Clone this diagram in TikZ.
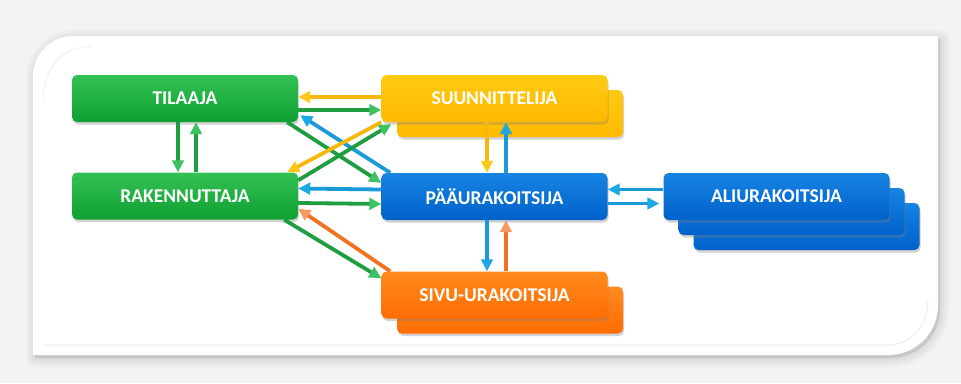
\documentclass[tikz,border=0pt]{standalone}
\usepackage{fontspec}
\setmainfont{Carlito}
\usetikzlibrary{arrows.meta,shadows,calc}
\definecolor{bgc}{HTML}{F3F3F3}
\definecolor{gtop}{HTML}{34C154}
\definecolor{gbot}{HTML}{0FA032}
\definecolor{ytop}{HTML}{FFCA12}
\definecolor{ybot}{HTML}{FFB900}
\definecolor{btop}{HTML}{1783E2}
\definecolor{bbot}{HTML}{0062CA}
\definecolor{otop}{HTML}{FF8B1E}
\definecolor{obot}{HTML}{FF6C02}
\definecolor{garrc}{HTML}{1E9E40}
\definecolor{garrt}{HTML}{3CC263}
\definecolor{barrc}{HTML}{1A9AD8}
\definecolor{barrt}{HTML}{1CA8E2}
\definecolor{yarrc}{HTML}{F7B80E}
\definecolor{yarrt}{HTML}{FFC817}
\definecolor{oarrc}{HTML}{F07222}
\definecolor{oarrt}{HTML}{F59A62}
\tikzset{
  box/.style={rectangle, rounded corners=5pt, minimum width=226pt, minimum height=47pt,
    inner sep=0pt, text=white, font=\fontsize{19.5}{22}\selectfont\bfseries,
    drop shadow={shadow xshift=1pt, shadow yshift=-2.5pt, opacity=0.35}},
  gbox/.style={box, top color=gtop, bottom color=gbot},
  ybox/.style={box, top color=ytop, bottom color=ybot},
  bbox/.style={box, top color=btop, bottom color=bbot},
  obox/.style={box, top color=otop, bottom color=obot},
  conn/.style={line width=3.8pt},
  garr/.style={conn, draw=garrc, -{Triangle[length=12pt,width=11.5pt,color=garrt]}},
  barr/.style={conn, draw=barrc, -{Triangle[length=12pt,width=11.5pt,color=barrt]}},
  yarr/.style={conn, draw=yarrc, -{Triangle[length=12pt,width=11.5pt,color=yarrt]}},
  oarr/.style={conn, draw=oarrc, -{Triangle[length=12pt,width=11.5pt,color=oarrt]}},
}
\begin{document}
\begin{tikzpicture}[x=1pt,y=-1pt]
\useasboundingbox (0,0) rectangle (961,383);
\fill[bgc] (0,0) rectangle (961,383);
% panel shadow
\foreach \w in {18,13,8,3}{
  \filldraw[black, opacity=0.022, line width=\w pt, line join=round, shift={(2,3)}]
    (33,76) .. controls (33,54) and (51,36) .. (73,36) -- (938,36) -- (938,305)
    .. controls (938,333) and (916,355) .. (888,355) -- (33,355) -- cycle;
}
% panel
\fill[white] (33,76) .. controls (33,54) and (51,36) .. (73,36) -- (938,36) -- (938,305)
    .. controls (938,333) and (916,355) .. (888,355) -- (33,355) -- cycle;
\draw[black!7, line width=1pt] (43,345) -- (888,345) .. controls (910,345) and (928,327) .. (928,300);
\draw[black!6, line width=1pt] (43,100) .. controls (43,70) and (60,47) .. (92,46);
% stacked copies
\node[ybox] (suunb) at (510,113.5) {};
\node[obox] (sivub) at (510,310) {};
\node[bbox] (alic) at (806.5,226.5) {};
\node[bbox] (alib) at (791.5,211.5) {};
% main boxes
\node[gbox] (til) at (185,98.5) {TILAAJA};
\node[gbox] (rak) at (185,196) {RAKENNUTTAJA};
\node[ybox] (suun) at (494.5,98.5) {SUUNNITTELIJA};
\node[bbox] (paa) at (494.5,196.5) {PÄÄURAKOITSIJA};
\node[obox] (sivu) at (494.5,295) {SIVU-URAKOITSIJA};
\node[bbox] (ali) at (776.5,196.5) {ALIURAKOITSIJA};
% connectors
\draw[yarr] ([yshift=1.5pt]suun.west) -- ([yshift=1.5pt]til.east);
\draw[garr] ([yshift=-11.5pt]til.east) -- ([yshift=-11.5pt]suun.west);
\draw[garr] ([xshift=-7pt]til.south) -- ([xshift=-7pt]rak.north);
\draw[garr] ([xshift=11pt]rak.north) -- ([xshift=11pt]til.south);
\draw[garr] ([xshift=-11pt]til.south east) -- ([yshift=-10pt]paa.north west);
\draw[barr] ([xshift=9pt]paa.north west) -- ([xshift=2pt,yshift=7pt]til.south east);
\draw[yarr] (suun.south west) -- ([xshift=-11pt]rak.north east);
\draw[garr] ([yshift=-8pt]rak.north east) -- ([xshift=10pt,yshift=-2pt]suun.south west);
\draw[barr] ([yshift=7pt]paa.west) -- ([yshift=7.5pt]rak.east);
\draw[garr] ([yshift=-7pt]rak.east) -- ([yshift=-7.5pt]paa.west);
\draw[garr] ([xshift=-14pt]rak.south east) -- ([yshift=-7pt]sivu.north west);
\draw[oarr] ([xshift=9pt]sivu.north west) -- ([yshift=11pt]rak.south east);
\draw[yarr] ([xshift=-7.5pt]suun.south) -- ([xshift=-7.5pt]paa.north);
\draw[barr] ([xshift=11.5pt]paa.north) -- ([xshift=11.5pt]suun.south);
\draw[barr] ([xshift=-7.5pt]paa.south) -- ([xshift=-7.5pt]sivu.north);
\draw[oarr] ([xshift=11.5pt]sivu.north) -- ([xshift=11.5pt]paa.south);
\draw[barr] ([yshift=7pt]ali.west) -- ([yshift=7pt]paa.east);
\draw[barr] ([yshift=-7pt]paa.east) -- ([xshift=-4pt,yshift=-7pt]ali.west);
\end{tikzpicture}
\end{document}
